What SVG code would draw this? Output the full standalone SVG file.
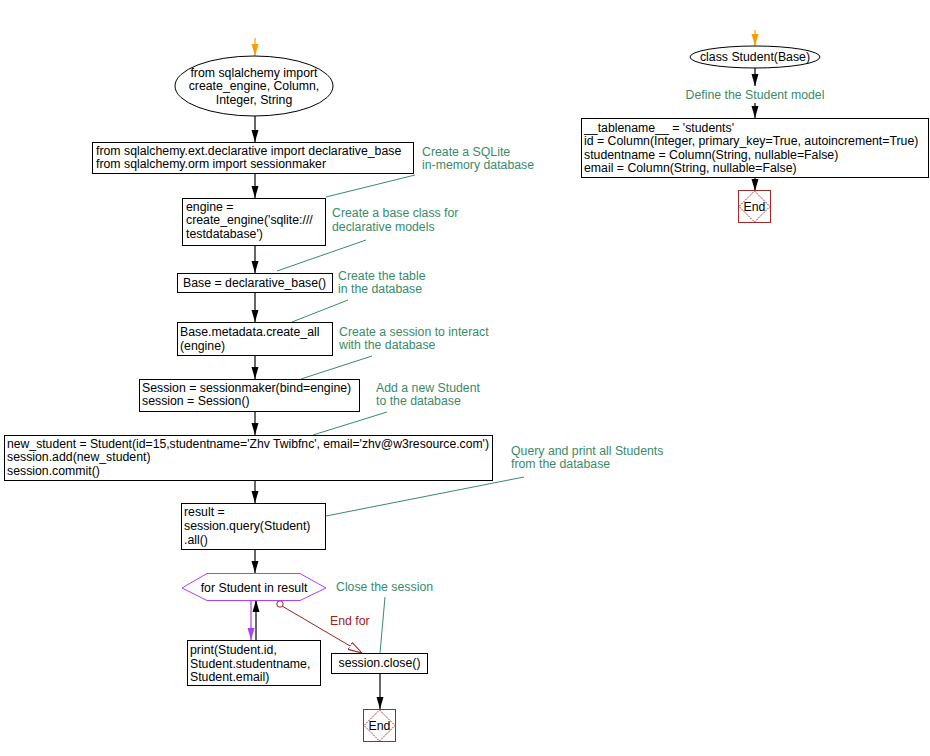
<svg xmlns="http://www.w3.org/2000/svg" width="930" height="756" viewBox="0 0 930 756">
<style>
text{font-family:"Liberation Sans",Arial,sans-serif;font-size:12.3px;fill:#000}
.c{fill:#3a8a6a}
.r{fill:#a02020}
.box{fill:#fff;stroke:#000;stroke-width:1}
.ln{stroke:#000;stroke-width:1.2;fill:none}
.cm{stroke:#3a8a6a;stroke-width:1;fill:none}
.end{fill:#fff;stroke:#a02828;stroke-width:1}
.dia{fill:none;stroke:#b03030;stroke-width:1;stroke-dasharray:2,1}
</style>
<defs>
<marker id="ab" viewBox="0 0 12 8" refX="12" refY="4" markerWidth="12" markerHeight="8" markerUnits="userSpaceOnUse" orient="auto"><path d="M0,0.5 L12,4 L0,7.5 z" fill="#000"/></marker>
<marker id="ao" viewBox="0 0 12 8" refX="12" refY="4" markerWidth="12" markerHeight="8" markerUnits="userSpaceOnUse" orient="auto"><path d="M0,0.5 L12,4 L0,7.5 z" fill="#f5a000"/></marker>
<marker id="ap" viewBox="0 0 12 8" refX="12" refY="4" markerWidth="12" markerHeight="8" markerUnits="userSpaceOnUse" orient="auto"><path d="M0,0.5 L12,4 L0,7.5 z" fill="#b040f0"/></marker>
<marker id="ar" viewBox="0 0 14 10" refX="14" refY="5" markerWidth="14" markerHeight="10" markerUnits="userSpaceOnUse" orient="auto"><path d="M0,1 L14,5 L0,9 z" fill="#fff" stroke="#a02020" stroke-width="1"/></marker>
</defs>

<g id="connectors">
<line x1="255" y1="38" x2="255" y2="56" stroke="#f5a000" stroke-width="1.2" marker-end="url(#ao)"/>
<line class="ln" x1="255" y1="116" x2="255" y2="142" marker-end="url(#ab)"/>
<line class="ln" x1="255" y1="173" x2="255" y2="198" marker-end="url(#ab)"/>
<line class="ln" x1="255" y1="245" x2="255" y2="273" marker-end="url(#ab)"/>
<line class="ln" x1="255" y1="292" x2="255" y2="322" marker-end="url(#ab)"/>
<line class="ln" x1="255" y1="355" x2="255" y2="379" marker-end="url(#ab)"/>
<line class="ln" x1="255" y1="411" x2="255" y2="435" marker-end="url(#ab)"/>
<line class="ln" x1="255" y1="480" x2="255" y2="503" marker-end="url(#ab)"/>
<line class="ln" x1="255" y1="549" x2="255" y2="573" marker-end="url(#ab)"/>
<line x1="251" y1="600" x2="251" y2="640" stroke="#b040f0" stroke-width="1.2" marker-end="url(#ap)"/>
<line class="ln" x1="256" y1="640" x2="256" y2="600" marker-end="url(#ab)"/>
<line x1="282" y1="606" x2="362" y2="653" stroke="#a02020" stroke-width="1" marker-end="url(#ar)"/>
<circle cx="280" cy="604" r="3.2" fill="#fff" stroke="#a02020" stroke-width="1"/>
<text class="r" x="330" y="625">End for</text>
<line class="ln" x1="380" y1="673" x2="380" y2="709" marker-end="url(#ab)"/>
<line x1="755" y1="30" x2="755" y2="46" stroke="#f5a000" stroke-width="1.2" marker-end="url(#ao)"/>
<line class="ln" x1="755" y1="68" x2="755" y2="86" marker-end="url(#ab)"/>
<line class="ln" x1="755" y1="103" x2="755" y2="118" marker-end="url(#ab)"/>
<line class="ln" x1="755" y1="177" x2="755" y2="191" marker-end="url(#ab)"/>
<line class="cm" x1="415" y1="175" x2="326" y2="197"/>
<line class="cm" x1="366" y1="240" x2="277" y2="271"/>
<line class="cm" x1="348" y1="300" x2="292" y2="322"/>
<line class="cm" x1="372" y1="356" x2="301" y2="379"/>
<line class="cm" x1="387" y1="412" x2="313" y2="435"/>
<line class="cm" x1="524" y1="477" x2="326" y2="516"/>
<line class="cm" x1="385" y1="597" x2="380" y2="653"/>
</g>

<g id="start1">
<ellipse cx="254" cy="86" rx="79" ry="30" class="box"/>
<text x="254" y="77" text-anchor="middle">from sqlalchemy import</text>
<text x="254" y="90" text-anchor="middle">create_engine, Column,</text>
<text x="254" y="104" text-anchor="middle">Integer, String</text>
</g>
<g id="imports">
<rect x="92.5" y="142.5" width="321" height="31" class="box"/>
<text x="96" y="155">from sqlalchemy.ext.declarative import declarative_base</text>
<text x="96" y="168">from sqlalchemy.orm import sessionmaker</text>
</g>
<g id="note1"><text class="c" x="422" y="156">Create a SQLite</text><text class="c" x="422" y="169">in-memory database</text></g>
<g id="engine">
<rect x="182.5" y="198.5" width="143" height="47" class="box"/>
<text x="186" y="211">engine =</text>
<text x="186" y="224">create_engine('sqlite:///</text>
<text x="186" y="238">testdatabase')</text>
</g>
<g id="note2"><text class="c" x="332" y="217">Create a base class for</text><text class="c" x="332" y="231">declarative models</text></g>
<g id="base">
<rect x="177.5" y="273.5" width="155" height="19" class="box"/>
<text x="183" y="287">Base = declarative_base()</text>
</g>
<g id="note3"><text class="c" x="338" y="280">Create the table</text><text class="c" x="338" y="293">in the database</text></g>
<g id="createall">
<rect x="177.5" y="322.5" width="155" height="33" class="box"/>
<text x="180" y="336">Base.metadata.create_all</text>
<text x="180" y="350">(engine)</text>
</g>
<g id="note4"><text class="c" x="339" y="336">Create a session to interact</text><text class="c" x="339" y="349">with the database</text></g>
<g id="session">
<rect x="139.5" y="379.5" width="220" height="32" class="box"/>
<text x="142" y="392">Session = sessionmaker(bind=engine)</text>
<text x="142" y="405">session = Session()</text>
</g>
<g id="note5"><text class="c" x="376" y="392">Add a new Student</text><text class="c" x="376" y="405">to the database</text></g>
<g id="newstudent">
<rect x="4.5" y="435.5" width="488" height="45" class="box"/>
<text x="7" y="448" textLength="482" lengthAdjust="spacingAndGlyphs">new_student = Student(id=15,studentname='Zhv Twibfnc', email='zhv@w3resource.com')</text>
<text x="7" y="461">session.add(new_student)</text>
<text x="7" y="475">session.commit()</text>
</g>
<g id="note6"><text class="c" x="511" y="455">Query and print all Students</text><text class="c" x="511" y="468">from the database</text></g>
<g id="result">
<rect x="181.5" y="503.5" width="144" height="46" class="box"/>
<text x="184" y="516">result =</text>
<text x="184" y="530">session.query(Student)</text>
<text x="184" y="544">.all()</text>
</g>
<g id="loop">
<polygon points="182,588 207,573.5 300,573.5 326,588 300,600.5 207,600.5" fill="#fff" stroke="#b040f0" stroke-width="1"/>
<text x="254" y="592" text-anchor="middle">for Student in result</text>
</g>
<g id="print">
<rect x="187.5" y="640.5" width="133" height="45" class="box"/>
<text x="190" y="654">print(Student.id,</text>
<text x="190" y="668">Student.studentname,</text>
<text x="190" y="681">Student.email)</text>
</g>
<g id="note7"><text class="c" x="336" y="591">Close the session</text></g>
<g id="close">
<rect x="331.5" y="653.5" width="96" height="20" class="box"/>
<text x="379.5" y="667" text-anchor="middle">session.close()</text>
</g>
<g id="end1">
<rect x="363.5" y="709.5" width="32" height="32" class="end"/>
<polygon points="379.5,710 395,725.5 379.5,741 364,725.5" class="dia"/>
<text x="379.5" y="730" text-anchor="middle">End</text>
</g>

<g id="start2">
<ellipse cx="755" cy="57" rx="65" ry="11" class="box"/>
<text x="755" y="61" text-anchor="middle">class Student(Base)</text>
</g>
<g id="note8"><text class="c" x="755" y="99" text-anchor="middle">Define the Student model</text></g>
<g id="model">
<rect x="581.5" y="118.5" width="347" height="59" class="box"/>
<text x="584" y="132">__tablename__ = 'students'</text>
<text x="584" y="145">id = Column(Integer, primary_key=True, autoincrement=True)</text>
<text x="584" y="159">studentname = Column(String, nullable=False)</text>
<text x="584" y="172">email = Column(String, nullable=False)</text>
</g>
<g id="end2">
<rect x="738.5" y="190.5" width="32" height="32" class="end"/>
<polygon points="754.5,191 770,206.5 754.5,222 739,206.5" class="dia"/>
<text x="754.5" y="211" text-anchor="middle">End</text>
</g>
</svg>
